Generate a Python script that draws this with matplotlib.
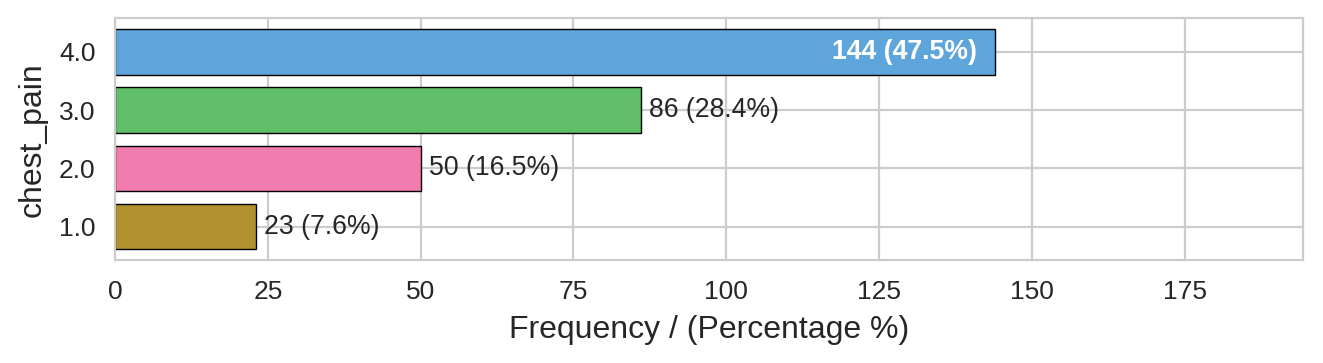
import matplotlib
matplotlib.use("Agg")
from matplotlib import pyplot as plt
import seaborn as sns

categories = ["1.0", "2.0", "3.0", "4.0"]
counts = [23, 50, 86, 144]
percents = [7.6, 16.5, 28.4, 47.5]
colors = ["#B2912F", "#F17CB0", "#60BD68", "#5DA5DA"]

sns.set_style("whitegrid")
plt.rcParams['font.family'] = ['Liberation Sans', 'DejaVu Sans']

fig, ax = plt.subplots(figsize=(6.615, 1.815), dpi=200)
bars = ax.barh(categories, counts, color=colors, edgecolor="black", linewidth=0.5, height=0.78)

top = max(counts)
for bar, c, p in zip(bars, counts, percents):
    label = f"{c} ({p}%)"
    y = bar.get_y() + bar.get_height() / 2
    if c == top:
        ax.text(c - 3, y, label, ha="right", va="center", color="white",
                fontsize=9.6, fontweight="bold")
    else:
        ax.text(c + 1.3, y, label, ha="left", va="center", color="#262626", fontsize=9.6)

ax.set_xlim(0, top * 1.35)
ax.set_xlabel("Frequency / (Percentage %)", fontsize=11.5)
ax.set_ylabel("chest_pain", fontsize=11.5)
ax.tick_params(labelsize=9.5)
for s in ax.spines.values():
    s.set_color("#cccccc")

fig.subplots_adjust(left=0.087, right=0.985, top=0.95, bottom=0.283)
fig.savefig("out.png", dpi=200)
